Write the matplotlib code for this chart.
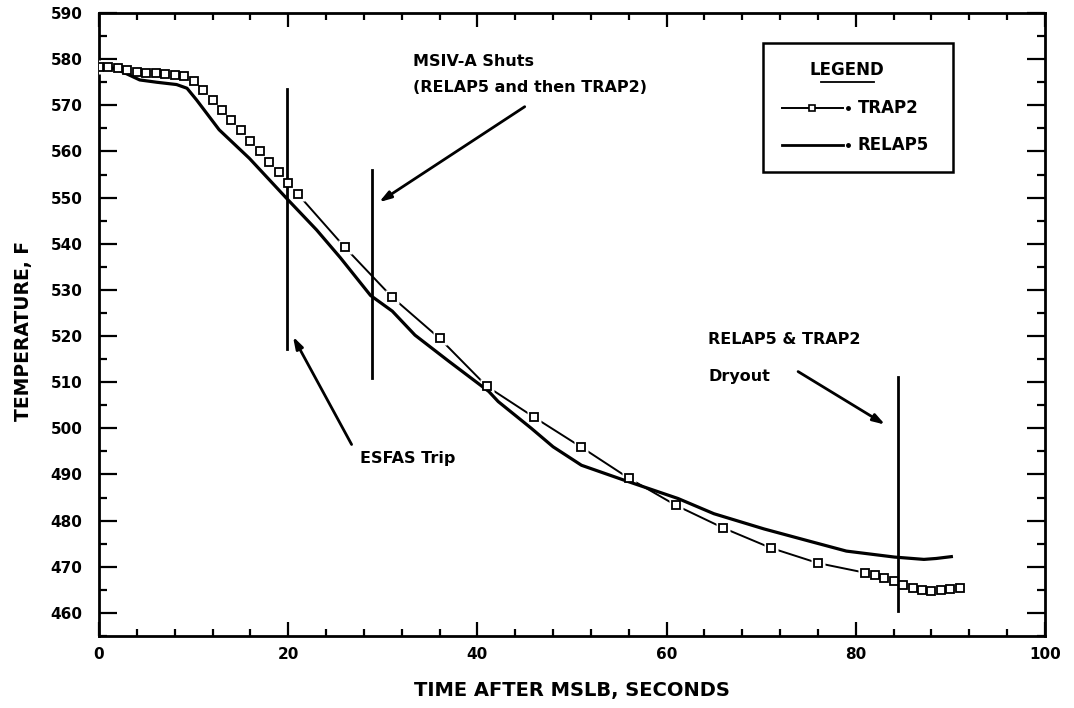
import numpy as np
import matplotlib.pyplot as plt
from matplotlib.patches import Rectangle
from matplotlib.lines import Line2D

plt.rcParams['font.family'] = ['DejaVu Sans']
plt.rcParams['font.weight'] = 'bold'

# TRAP2 (open squares)
trap2_t = [0, 1, 2, 3, 4, 5, 6, 7, 8, 9, 10, 11, 12, 13, 14, 15, 16, 17, 18, 19, 20, 21,
           26, 31, 36, 41, 46, 51, 56, 61, 66, 71, 76, 81,
           82, 83, 84, 85, 86, 87, 88, 89, 90, 91]
trap2_T = [578.4, 578.4, 578.1, 577.7, 577.3, 577.0, 576.9, 576.8, 576.6, 576.3, 575.2,
           573.4, 571.2, 569.0, 566.9, 564.7, 562.3, 560.0, 557.8, 555.5, 553.1, 550.8,
           539.2, 528.4, 519.5, 509.1, 502.4, 495.9, 489.2, 483.3, 478.4, 474.1, 470.8, 468.7,
           468.2, 467.6, 466.9, 466.1, 465.3, 465.0, 464.8, 465.0, 465.2, 465.4]

# RELAP5 (solid line)
relap5_t = [0, 1.7, 4.3, 6.1, 8.2, 9.3, 10.3, 12.7, 15.9, 19.8, 23, 25.5, 28.7, 31, 33.4,
            37, 41.2, 42.2, 45.7, 48, 51, 55.6, 61.2, 65, 70.3, 75, 79, 84.1, 87.2, 88.5, 90.1]
relap5_T = [578.4, 578.0, 575.5, 575.0, 574.5, 573.7, 571.2, 564.7, 558.5, 549.9, 543.0,
            537.0, 528.8, 525.4, 520.2, 514.5, 508.0, 505.8, 500.0, 496.0, 492.0, 488.7,
            484.8, 481.5, 478.2, 475.6, 473.4, 472.1, 471.6, 471.8, 472.2]

# event markers: (time, bottom, top)
events = [(19.9, 517.1, 573.5), (28.9, 511.0, 556.0), (84.5, 460.5, 511.2)]

fig = plt.figure(figsize=(10.74, 7.08), dpi=100)
ax = fig.add_axes([0.0922, 0.1017, 0.8808, 0.8799])

ax.plot(trap2_t, trap2_T, color='black', lw=1.4, zorder=2)
ax.plot(trap2_t, trap2_T, ls='none', marker='s', ms=10, mfc='white', mec='none', zorder=3)
ax.plot(relap5_t, relap5_T, color='black', lw=2.3, zorder=4)
for t, y0, y1 in events:
    ax.plot([t, t], [y0, y1], color='black', lw=2.0, zorder=4)
ax.plot(trap2_t, trap2_T, ls='none', marker='s', ms=5.5, mfc='white', mec='black', mew=1.3, zorder=5)

# annotations
arw = dict(arrowstyle='-|>,head_length=0.7,head_width=0.22', color='black', lw=2, shrinkA=0, shrinkB=0)
ax.annotate('', xy=(29.6, 549.0), xytext=(45.0, 569.7), arrowprops=arw)
ax.annotate('', xy=(20.5, 519.9), xytext=(26.7, 496.5), arrowprops=arw)
ax.annotate('', xy=(83.1, 500.8), xytext=(73.9, 512.3), arrowprops=arw)

tkw = dict(fontsize=11.5, fontweight='bold', va='center', ha='left')
ax.text(33.2, 579.4, 'MSIV-A Shuts', **tkw)
ax.text(33.2, 573.8, '(RELAP5 and then TRAP2)', **tkw)
ax.text(27.6, 493.5, 'ESFAS Trip', **tkw)
ax.text(64.4, 519.2, 'RELAP5 & TRAP2', **tkw)
ax.text(64.4, 511.2, 'Dryout', **tkw)

# hand-drawn legend box
ax.add_patch(Rectangle((0.702, 0.745), 0.201, 0.207, transform=ax.transAxes,
                       fill=False, lw=1.8, ec='black', zorder=6))
ax.text(0.791, 0.9085, 'LEGEND', transform=ax.transAxes, ha='center', va='center',
        fontsize=12, fontweight='bold')
ax.add_line(Line2D([0.763, 0.819], [0.889, 0.889], transform=ax.transAxes, color='black', lw=1.3))
ax.add_line(Line2D([0.722, 0.749], [0.8475, 0.8475], transform=ax.transAxes, color='black', lw=1.4))
ax.add_line(Line2D([0.758, 0.786], [0.8475, 0.8475], transform=ax.transAxes, color='black', lw=1.4))
ax.add_line(Line2D([0.7535], [0.8475], transform=ax.transAxes, ls='none', marker='s', ms=5,
                   mfc='white', mec='black', mew=1.2))
ax.add_line(Line2D([0.722, 0.786], [0.788, 0.788], transform=ax.transAxes, color='black', lw=2.0))
for yy in (0.8475, 0.788):
    ax.add_line(Line2D([0.792], [yy], transform=ax.transAxes, ls='none', marker='o', ms=2.5,
                       mfc='black', mec='black'))
ax.text(0.802, 0.8475, 'TRAP2', transform=ax.transAxes, va='center', fontsize=12, fontweight='bold')
ax.text(0.802, 0.788, 'RELAP5', transform=ax.transAxes, va='center', fontsize=12, fontweight='bold')

ax.set_xlim(0, 100)
ax.set_ylim(455, 590)
ax.set_xticks(np.arange(0, 101, 20))
ax.set_xticks(np.arange(0, 101, 4), minor=True)
ax.set_yticks(np.arange(460, 591, 10))
ax.set_yticks(np.arange(455, 591, 5), minor=True)
ax.tick_params(which='both', direction='in', top=True, right=True, width=1.6, labelsize=11)
ax.tick_params(axis='x', which='major', length=10, pad=8)
ax.tick_params(axis='x', which='minor', length=5)
ax.tick_params(axis='y', which='major', length=13, pad=12)
ax.tick_params(axis='y', which='minor', length=6)
for lab in ax.get_xticklabels() + ax.get_yticklabels():
    lab.set_fontweight('bold')
for sp in ax.spines.values():
    sp.set_linewidth(2.0)

ax.set_xlabel('TIME AFTER MSLB, SECONDS', fontsize=14, fontweight='bold')
ax.set_ylabel('TEMPERATURE, F', fontsize=13.5, fontweight='bold')
ax.xaxis.set_label_coords(0.5, -0.0867)
ax.xaxis.label.set_va('center')
ax.yaxis.set_label_coords(-0.080, 0.49)
ax.yaxis.label.set_va('center')

fig.savefig('out.png', dpi=100)
